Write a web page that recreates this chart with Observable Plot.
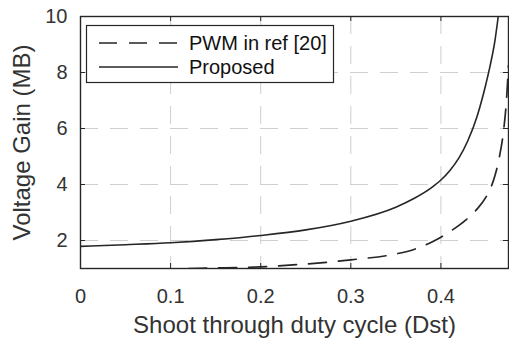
<!DOCTYPE html>
<html>
<head>
<meta charset="utf-8">
<script src="https://cdn.jsdelivr.net/npm/d3@7"></script>
<script src="https://cdn.jsdelivr.net/npm/@observablehq/plot@0.6"></script>
<style>
  body { margin: 0; background: #fff; }
  #chart svg { display: block; }
</style>
</head>
<body>
<div id="chart"></div>
<script>
// Voltage gain versus shoot-through duty cycle
const dutyPwm = [0.12, 0.15, 0.2, 0.25, 0.3, 0.35, 0.37, 0.38, 0.39, 0.4, 0.41, 0.42, 0.43, 0.44, 0.45, 0.455, 0.46, 0.465, 0.47, 0.4725, 0.475];
const gainPwm = [1.0, 1.02, 1.06, 1.16, 1.31, 1.52, 1.68, 1.8, 1.95, 2.12, 2.32, 2.54, 2.8, 3.12, 3.55, 3.86, 4.32, 5.0, 6.05, 6.9, 8.25];

const dutyProposed = [0, 0.05, 0.1, 0.15, 0.2, 0.25, 0.3, 0.35, 0.37, 0.39, 0.4, 0.41, 0.42, 0.43, 0.44, 0.45, 0.455, 0.46, 0.4636];
const gainProposed = [1.79, 1.85, 1.92, 2.03, 2.18, 2.38, 2.69, 3.19, 3.5, 3.9, 4.16, 4.5, 4.95, 5.57, 6.42, 7.6, 8.3, 9.15, 10];

const seriesNames = ["PWM in ref [20]", "Proposed"];
const xTicks = [0, 0.1, 0.2, 0.3, 0.4];
const yTicks = [2, 4, 6, 8, 10];
const xLabel = "Shoot through duty cycle (Dst)";
const yLabel = "Voltage Gain (MB)";

const pwm = dutyPwm.map((d, i) => ({d, g: gainPwm[i]}));
const proposed = dutyProposed.map((d, i) => ({d, g: gainProposed[i]}));

const W = 509, H = 339;
const mL = 80, mR = 1, mT = 16, mB = 71;
const innerW = W - mL - mR;
const innerH = H - mT - mB;
const tickLen = 5;
const ink = "#262626";
const gridColor = "#cfcfcf";
const dash = "18,12";
const font = "'Liberation Sans', Arial, Helvetica, sans-serif";

const chart = Plot.plot({
  width: W,
  height: H,
  marginLeft: mL,
  marginRight: mR,
  marginTop: mT,
  marginBottom: mB,
  style: {fontFamily: font, background: "#fff", color: ink, overflow: "visible"},
  x: {domain: [0, 0.475]},
  y: {domain: [1, 10]},
  marks: [
    Plot.gridX(xTicks, {stroke: gridColor, strokeOpacity: 1, strokeDasharray: dash}),
    Plot.gridY(yTicks, {stroke: gridColor, strokeOpacity: 1, strokeDasharray: dash}),
    Plot.line(pwm, {x: "d", y: "g", stroke: ink, strokeWidth: 1.7, strokeDasharray: dash, curve: "monotone-x", clip: true}),
    Plot.line(proposed, {x: "d", y: "g", stroke: ink, strokeWidth: 1.6, curve: "monotone-x", clip: true}),
    // inward ticks on all four sides
    Plot.ruleX(xTicks, {x: d => d, insetTop: innerH - tickLen, stroke: ink}),
    Plot.ruleX(xTicks, {x: d => d, insetBottom: innerH - tickLen, stroke: ink}),
    Plot.ruleY(yTicks, {y: d => d, insetRight: innerW - tickLen, stroke: ink}),
    Plot.ruleY(yTicks, {y: d => d, insetLeft: innerW - tickLen, stroke: ink}),
    Plot.frame({stroke: ink, strokeWidth: 1.4}),
    Plot.axisX(xTicks, {tickSize: 0, tickPadding: 20, fontSize: 20, label: null, tickFormat: d => String(d), fill: "#333"}),
    Plot.axisY(yTicks, {tickSize: 0, tickPadding: 13, fontSize: 20, label: null, fill: "#333"}),
    Plot.text([xLabel], {frameAnchor: "bottom", dy: 57, fontSize: 24, fill: "#333", textAnchor: "middle", lineAnchor: "middle"}),
    Plot.text([yLabel], {frameAnchor: "left", dx: -58, rotate: -90, fontSize: 24, fill: "#333", textAnchor: "middle", lineAnchor: "middle"})
  ]
});

// legend box inside the top-left of the axes
const svg = d3.select(chart);
const lg = svg.append("g").attr("font-family", font).attr("font-size", 20).attr("text-anchor", "start");
lg.append("rect")
  .attr("x", 86.5).attr("y", 25.5).attr("width", 247).attr("height", 57)
  .attr("fill", "#fff").attr("stroke", ink).attr("stroke-width", 1.2);
const rows = [{name: seriesNames[0], dashed: true, y: 43}, {name: seriesNames[1], dashed: false, y: 67}];
for (const r of rows) {
  lg.append("line")
    .attr("x1", 99).attr("x2", 178).attr("y1", r.y).attr("y2", r.y)
    .attr("stroke", ink).attr("stroke-width", 1.6)
    .attr("stroke-dasharray", r.dashed ? dash : null);
  lg.append("text")
    .attr("x", 189).attr("y", r.y).attr("dy", "0.35em")
    .attr("fill", "#111").text(r.name);
}

document.getElementById("chart").appendChild(chart);
</script>
</body>
</html>
